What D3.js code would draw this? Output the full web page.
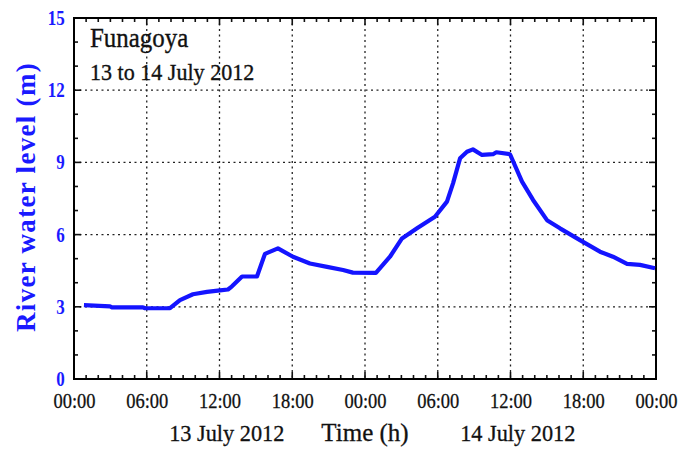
<!DOCTYPE html>
<html>
<head>
<meta charset="utf-8">
<script src="https://cdn.jsdelivr.net/npm/d3@7/dist/d3.min.js"></script>
<style>
  html, body { margin: 0; padding: 0; background: #fff; }
  svg { display: block; }
  text { font-family: "Liberation Serif", "Times New Roman", serif; }
</style>
</head>
<body>
<svg id="chart" width="696" height="452"></svg>
<script>
// Hours since 00:00 on 13 July 2012
const hours = [0.82, 2.97, 3.13, 5.69, 5.86, 7.92, 8.74, 9.81, 10.97, 12.04, 12.7, 13.03,
  13.86, 15.09, 15.75, 16.82, 18.06, 19.46, 20.87, 22.19, 23.0, 24.9, 26.06, 27.05,
  28.29, 29.77, 30.76, 31.26, 31.84, 32.41, 32.9, 33.65, 34.56, 34.83, 35.96, 36.95,
  37.86, 39.01, 40.08, 41.73, 43.38, 44.45, 45.61, 46.68, 47.92];
// River water level (m) at Funagoya
const level = [3.07, 3.02, 2.98, 2.98, 2.94, 2.94, 3.28, 3.52, 3.62, 3.68, 3.72, 3.85,
  4.26, 4.26, 5.2, 5.43, 5.08, 4.8, 4.66, 4.53, 4.42, 4.41, 5.08, 5.84,
  6.26, 6.74, 7.37, 8.13, 9.17, 9.44, 9.54, 9.31, 9.34, 9.42, 9.34, 8.2,
  7.44, 6.6, 6.26, 5.77, 5.29, 5.08, 4.78, 4.74, 4.6];

const xTickHours = [0, 6, 12, 18, 24, 30, 36, 42, 48];
const xTickLabels = ["00:00", "06:00", "12:00", "18:00", "00:00", "06:00", "12:00", "18:00", "00:00"];
const yTicks = [0, 3, 6, 9, 12, 15];
const dayLabels = ["13 July 2012", "14 July 2012"];
const dayCentres = [12.6, 36.6];

const svg = d3.select("#chart");
const m = { left: 74, right: 656, top: 18, bottom: 379 };
const x = d3.scaleLinear().domain([0, 48]).range([m.left, m.right]);
const y = d3.scaleLinear().domain([0, 15]).range([m.bottom, m.top]);
const W = m.right - m.left, H = m.bottom - m.top;
const ink = "#111", blue = "#1a1aff";

// dotted grid at major ticks
const grid = svg.append("g").attr("stroke", "#222").attr("stroke-width", 1.3)
  .attr("stroke-dasharray", "2,3.5");
grid.selectAll(".gx").data(xTickHours.slice(1, -1)).join("line")
  .attr("x1", d => x(d)).attr("x2", d => x(d)).attr("y1", m.top).attr("y2", m.bottom);
grid.selectAll(".gy").data(yTicks.slice(1, -1)).join("line")
  .attr("y1", d => y(d)).attr("y2", d => y(d)).attr("x1", m.left).attr("x2", m.right);

// inward ticks on all four sides
const minorX = d3.range(0, 49, 1), minorY = d3.range(0, 16, 1);
const tk = svg.append("g").attr("stroke", ink).attr("stroke-width", 1.6);
function tlen(d, step) { return d % step === 0 ? 7 : 4; }
tk.selectAll(".tb").data(minorX).join("line")
  .attr("x1", d => x(d)).attr("x2", d => x(d))
  .attr("y1", m.bottom).attr("y2", d => m.bottom - tlen(d, 6));
tk.selectAll(".tt").data(minorX).join("line")
  .attr("x1", d => x(d)).attr("x2", d => x(d))
  .attr("y1", m.top).attr("y2", d => m.top + tlen(d, 6));
tk.selectAll(".tl").data(minorY).join("line")
  .attr("y1", d => y(d)).attr("y2", d => y(d))
  .attr("x1", m.left).attr("x2", d => m.left + tlen(d, 3));
tk.selectAll(".tr").data(minorY).join("line")
  .attr("y1", d => y(d)).attr("y2", d => y(d))
  .attr("x1", m.right).attr("x2", d => m.right - tlen(d, 3));

// frame
svg.append("rect").attr("x", m.left).attr("y", m.top).attr("width", W).attr("height", H)
  .attr("fill", "none").attr("stroke", "#000").attr("stroke-width", 2);

// x axis labels (narrow serif digits)
const xAxis = d3.axisBottom(x).tickValues(xTickHours)
  .tickFormat((d, i) => xTickLabels[i]).tickSize(0).tickPadding(14);
const gx = svg.append("g").attr("transform", `translate(0,${m.bottom})`).call(xAxis);
gx.select(".domain").remove();
gx.selectAll("text").attr("font-size", 21).attr("fill", ink)
  .attr("stroke", ink).attr("stroke-width", 0.3)
  .attr("font-family", "'Liberation Serif', serif")
  .attr("transform", "scale(0.88,1)");

// y axis labels
const yAxis = d3.axisLeft(y).tickValues(yTicks).tickSize(0).tickPadding(11);
const gy = svg.append("g").attr("transform", `translate(${m.left},0)`).call(yAxis);
gy.select(".domain").remove();
gy.selectAll("text").attr("font-size", 20).attr("font-weight", "bold").attr("fill", blue)
  .attr("font-family", "'Liberation Serif', serif")
  .attr("transform", "scale(0.85,1)");

// axis titles
svg.append("text").attr("x", x(24)).attr("y", 441).attr("text-anchor", "middle")
  .attr("font-size", 25).attr("fill", ink).attr("stroke", ink).attr("stroke-width", 0.3)
  .text("Time (h)");
svg.selectAll(".day").data(dayLabels).join("text")
  .attr("transform", (d, i) => `translate(${x(dayCentres[i])},441) scale(0.93,1)`)
  .attr("text-anchor", "middle")
  .attr("font-size", 24).attr("fill", ink).attr("stroke", ink).attr("stroke-width", 0.3)
  .text(d => d);
svg.append("text").attr("transform", "translate(35,197) rotate(-90)")
  .attr("text-anchor", "middle").attr("font-size", 27).attr("font-weight", "bold")
  .attr("letter-spacing", 1.3).attr("fill", blue).text("River water level (m)");

// station title
svg.append("text").attr("transform", "translate(90,47) scale(0.89,1)")
  .attr("font-size", 28).attr("fill", ink).attr("stroke", ink).attr("stroke-width", 0.35)
  .text("Funagoya");
svg.append("text").attr("transform", "translate(90,80) scale(0.92,1)")
  .attr("font-size", 24).attr("fill", ink).attr("stroke", ink).attr("stroke-width", 0.35)
  .text("13 to 14 July 2012");

// water level line
const line = d3.line().x((d, i) => x(hours[i])).y(d => y(d));
svg.append("path").datum(level).attr("d", line)
  .attr("fill", "none").attr("stroke", "#1414ff").attr("stroke-width", 4.2)
  .attr("stroke-linejoin", "round").attr("stroke-linecap", "butt");
</script>
</body>
</html>
